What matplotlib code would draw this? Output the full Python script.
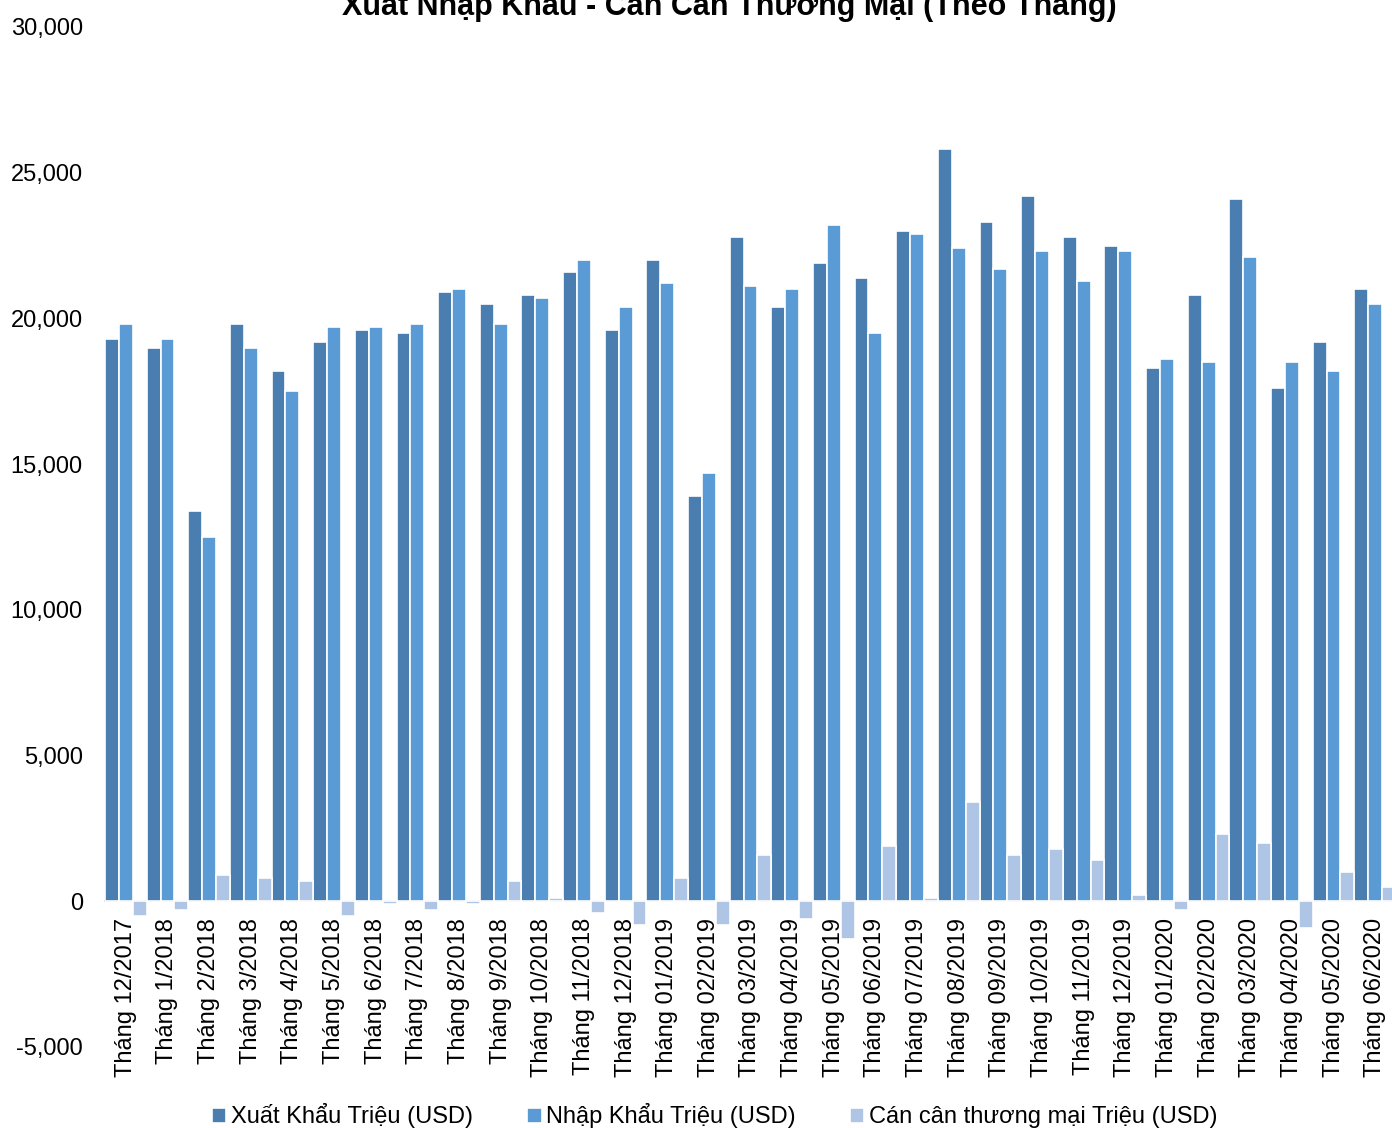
import matplotlib
matplotlib.use("Agg")
import matplotlib.pyplot as plt
from matplotlib.ticker import FuncFormatter
import numpy as np

plt.rcParams['font.family'] = ['Liberation Sans', 'DejaVu Sans']

months = [
    "Tháng 12/2017", "Tháng 1/2018", "Tháng 2/2018", "Tháng 3/2018", "Tháng 4/2018",
    "Tháng 5/2018", "Tháng 6/2018", "Tháng 7/2018", "Tháng 8/2018", "Tháng 9/2018",
    "Tháng 10/2018", "Tháng 11/2018", "Tháng 12/2018", "Tháng 01/2019", "Tháng 02/2019",
    "Tháng 03/2019", "Tháng 04/2019", "Tháng 05/2019", "Tháng 06/2019", "Tháng 07/2019",
    "Tháng 08/2019", "Tháng 09/2019", "Tháng 10/2019", "Tháng 11/2019", "Tháng 12/2019",
    "Tháng 01/2020", "Tháng 02/2020", "Tháng 03/2020", "Tháng 04/2020", "Tháng 05/2020",
    "Tháng 06/2020",
]

xuat_khau = [19300, 19000, 13400, 19800, 18200, 19200, 19600, 19500, 20900, 20500,
             20800, 21600, 19600, 22000, 13900, 22800, 20400, 21900, 21400, 23000,
             25800, 23300, 24200, 22800, 22500, 18300, 20800, 24100, 17600, 19200,
             21000]

nhap_khau = [19800, 19300, 12500, 19000, 17500, 19700, 19700, 19800, 21000, 19800,
             20700, 22000, 20400, 21200, 14700, 21100, 21000, 23200, 19500, 22900,
             22400, 21700, 22300, 21300, 22300, 18600, 18500, 22100, 18500, 18200,
             20500]

can_can = [-500, -300, 900, 800, 700, -500, -100, -300, -100, 700,
           100, -400, -800, 800, -800, 1600, -600, -1300, 1900, 100,
           3400, 1600, 1800, 1400, 200, -300, 2300, 2000, -900, 1000,
           500]

series_names = ["Xuất Khẩu Triệu (USD)", "Nhập Khẩu Triệu (USD)",
                "Cán cân thương mại Triệu (USD)"]
colors = ["#4A7EB1", "#5B9BD5", "#AEC5E6"]

fig = plt.figure(figsize=(13.92, 11.28), dpi=100)
ax = fig.add_axes([105 / 1392, 1 - 1047 / 1128, 1291 / 1392, (1047 - 27) / 1128])

# category axis sits on the zero line
for s in ["top", "right", "left"]:
    ax.spines[s].set_visible(False)
ax.spines["bottom"].set_position(("data", 0))
ax.spines["bottom"].set_color("#D9D9D9")
ax.spines["bottom"].set_linewidth(1.2)
ax.spines["bottom"].set_zorder(1)

x = np.arange(len(months))
w = 1 / 3
for k, (vals, name, c) in enumerate(zip([xuat_khau, nhap_khau, can_can], series_names, colors)):
    ax.bar(x - 0.5 + w * (k + 0.5), vals, width=w, color=c, edgecolor="white",
           linewidth=1.2, label=name, zorder=2)

ax.set_xlim(-0.5, len(months) - 0.5)
ax.set_ylim(-5000, 30000)
ax.set_yticks(np.arange(-5000, 30001, 5000))
ax.yaxis.set_major_formatter(FuncFormatter(lambda v, p: f"{int(v):,}"))
ax.tick_params(axis='y', length=0, labelsize=17, pad=16)

ax.set_xticks(x)
ax.set_xticklabels(months, rotation=90, fontsize=17, ha="center", va="top")
ax.tick_params(axis='x', length=0, pad=12)

fig.text(729 / 1392, 1 - 15 / 1128, "Xuất Nhập Khẩu - Cán Cân Thương Mại (Theo Tháng)",
         ha="center", va="baseline", fontsize=22, fontweight="bold")

fig.legend(loc="center", bbox_to_anchor=(715 / 1392, 1 - 1116 / 1128), ncol=3,
           frameon=False, fontsize=17, handlelength=0.6, handleheight=0.6,
           handletextpad=0.2, columnspacing=2.3, borderpad=0)

fig.savefig("out.png", dpi=100)
